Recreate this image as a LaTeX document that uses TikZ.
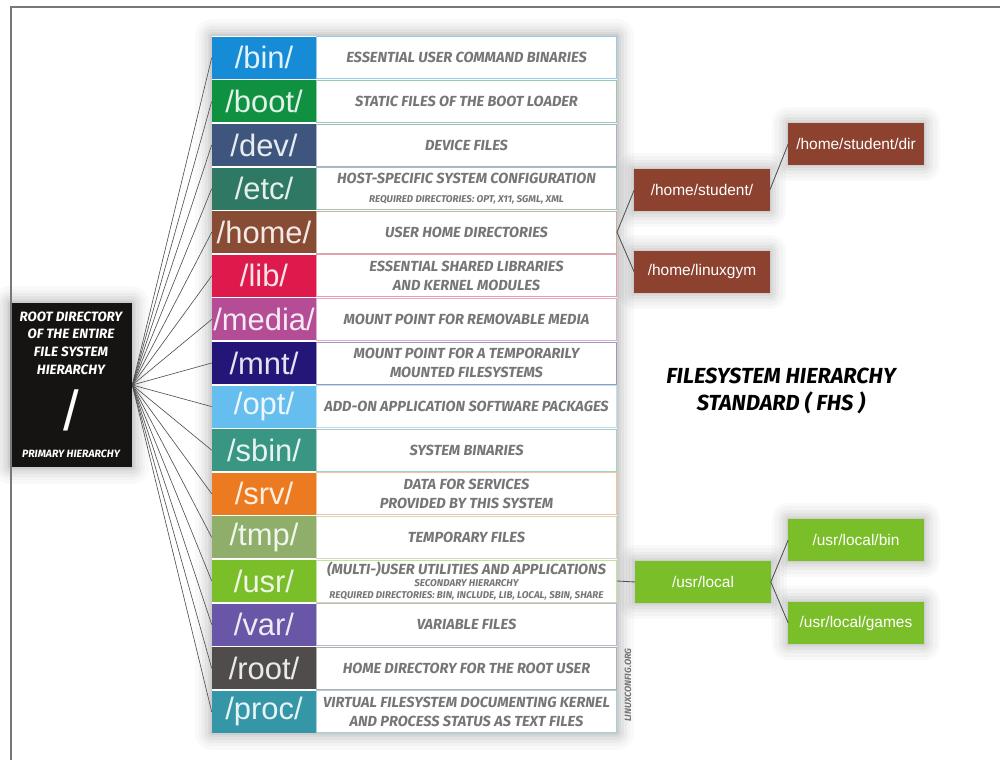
\documentclass[tikz,border=0pt]{standalone}
\usepackage{fontspec}
\setmainfont{Liberation Sans}
\newfontfamily\descfont{Fira Sans}
\usepackage{tikz}

\definecolor{binblue}{RGB}{22,140,214}
\definecolor{bootgreen}{RGB}{16,145,66}
\definecolor{devslate}{RGB}{62,86,126}
\definecolor{etcteal}{RGB}{46,120,100}
\definecolor{homebrown}{RGB}{136,76,52}
\definecolor{libred}{RGB}{222,26,76}
\definecolor{mediapink}{RGB}{180,76,150}
\definecolor{mntindigo}{RGB}{36,22,120}
\definecolor{optblue}{RGB}{102,190,238}
\definecolor{sbinteal}{RGB}{56,150,130}
\definecolor{srvorange}{RGB}{236,122,32}
\definecolor{tmpolive}{RGB}{142,174,106}
\definecolor{usrgreen}{RGB}{122,190,42}
\definecolor{varpurple}{RGB}{106,86,166}
\definecolor{rootgray}{RGB}{80,76,76}
\definecolor{procteal}{RGB}{52,150,166}
\definecolor{desctext}{RGB}{118,118,118}
\definecolor{linkgray}{RGB}{80,80,80}
\definecolor{brownbox}{RGB}{140,66,46}
\definecolor{limebox}{RGB}{122,190,42}
\definecolor{rootblack}{RGB}{22,19,19}
\definecolor{framegray}{RGB}{120,120,120}

\newcommand{\reqtext}[1]{{\fontsize{7}{8}\selectfont #1}}

\begin{document}
\begin{tikzpicture}[
    x=0.025cm, y=-0.025cm,
    glow/.style={
        preaction={draw=black, fill=none, draw opacity=0.022, line width=24pt, line join=round},
        preaction={draw=black, fill=none, draw opacity=0.025, line width=19pt, line join=round},
        preaction={draw=black, fill=none, draw opacity=0.03, line width=14pt, line join=round},
        preaction={draw=black, fill=none, draw opacity=0.035, line width=9.5pt, line join=round},
        preaction={draw=black, fill=none, draw opacity=0.04, line width=5.5pt, line join=round},
        preaction={draw=black, fill=none, draw opacity=0.05, line width=2.5pt, line join=round}},
    dirbox/.style={rectangle, fill=#1, text=#1!12!white, minimum width=2.6cm, minimum height=1.05cm, inner sep=0pt, font=\fontsize{22}{22}\selectfont},
    descbox/.style={rectangle, draw=#1!45!white, line width=0.6pt, fill=white, minimum width=7.5cm, minimum height=1.05cm, inner sep=0pt, align=center, text=desctext, font=\descfont\bfseries\itshape\fontsize{10.4}{13.5}\selectfont},
    subbox/.style={rectangle, glow, fill=#1, text=white, minimum width=3.375cm, minimum height=1.025cm, inner sep=0pt, font=\fontsize{11}{11}\selectfont},
    rootbox/.style={rectangle, glow, fill=rootblack, minimum width=3.05cm, minimum height=4.1cm, inner sep=0pt},
    roottext/.style={text=white, align=center, font=\descfont\bfseries\itshape\fontsize{9.6}{12.5}\selectfont},
    titletext/.style={align=center, font=\descfont\bfseries\itshape\fontsize{15.5}{19}\selectfont},
    fanline/.style={draw=linkgray, line width=0.45pt},
    link/.style={draw=linkgray, line width=0.6pt}
]

% ════════════════════════════════════════
% PAGE AND FRAME
% ════════════════════════════════════════
\useasboundingbox (0,0) rectangle (1000,760);
\fill[white] (0,0) rectangle (1000,760);

% soft shadow behind the table
\fill[white, glow] (212,36) rectangle (617,733);

% ════════════════════════════════════════
% ROOT DIRECTORY
% ════════════════════════════════════════
\node[rootbox] (root) at (71,385) {};
\node[roottext] (roottitle) at (71,343) {ROOT DIRECTORY\\OF THE ENTIRE\\FILE SYSTEM\\HIERARCHY};
\node[text=white, font=\fontsize{40}{40}\selectfont] (rootslash) at (71,410) {/};
\node[roottext, font=\descfont\bfseries\itshape\fontsize{7.5}{8}\selectfont] (rootsub) at (71,454) {PRIMARY HIERARCHY};

% ════════════════════════════════════════
% DIRECTORY TABLE
% ════════════════════════════════════════
\node[dirbox=binblue]    (c1)  at (264,57.8)  {/bin/};
\node[dirbox=bootgreen]  (c2)  at (264,101.4) {/boot/};
\node[dirbox=devslate]   (c3)  at (264,145.0) {/dev/};
\node[dirbox=etcteal]    (c4)  at (264,188.6) {/etc/};
\node[dirbox=homebrown]  (c5)  at (264,232.2) {/home/};
\node[dirbox=libred]     (c6)  at (264,275.8) {/lib/};
\node[dirbox=mediapink]  (c7)  at (264,319.4) {/media/};
\node[dirbox=mntindigo]  (c8)  at (264,363.0) {/mnt/};
\node[dirbox=optblue]    (c9)  at (264,406.6) {/opt/};
\node[dirbox=sbinteal]   (c10) at (264,450.2) {/sbin/};
\node[dirbox=srvorange]  (c11) at (264,493.8) {/srv/};
\node[dirbox=tmpolive]   (c12) at (264,537.4) {/tmp/};
\node[dirbox=usrgreen]   (c13) at (264,581.0) {/usr/};
\node[dirbox=varpurple]  (c14) at (264,624.6) {/var/};
\node[dirbox=rootgray]   (c15) at (264,668.2) {/root/};
\node[dirbox=procteal]   (c16) at (264,711.8) {/proc/};

\node[descbox=binblue]   (t1)  at (466.5,57.8)  {ESSENTIAL USER COMMAND BINARIES};
\node[descbox=bootgreen] (t2)  at (466.5,101.4) {STATIC FILES OF THE BOOT LOADER};
\node[descbox=devslate]  (t3)  at (466.5,145.0) {DEVICE FILES};
\node[descbox=etcteal]   (t4)  at (466.5,188.6) {HOST-SPECIFIC SYSTEM CONFIGURATION\\[0pt]\reqtext{REQUIRED DIRECTORIES: OPT, X11, SGML, XML}};
\node[descbox=homebrown] (t5)  at (466.5,232.2) {USER HOME DIRECTORIES};
\node[descbox=libred]    (t6)  at (466.5,275.8) {ESSENTIAL SHARED LIBRARIES\\AND KERNEL MODULES};
\node[descbox=mediapink] (t7)  at (466.5,319.4) {MOUNT POINT FOR REMOVABLE MEDIA};
\node[descbox=mntindigo] (t8)  at (466.5,363.0) {MOUNT POINT FOR A TEMPORARILY\\MOUNTED FILESYSTEMS};
\node[descbox=optblue]   (t9)  at (466.5,406.6) {ADD-ON APPLICATION SOFTWARE PACKAGES};
\node[descbox=sbinteal]  (t10) at (466.5,450.2) {SYSTEM BINARIES};
\node[descbox=srvorange] (t11) at (466.5,493.8) {DATA FOR SERVICES\\PROVIDED BY THIS SYSTEM};
\node[descbox=tmpolive]  (t12) at (466.5,537.4) {TEMPORARY FILES};
\node[descbox=usrgreen]  (t13) at (466.5,581.0) {(MULTI-)USER UTILITIES AND APPLICATIONS\\[-5pt]\reqtext{SECONDARY HIERARCHY}\\[-4.5pt]\reqtext{REQUIRED DIRECTORIES: BIN, INCLUDE, LIB, LOCAL, SBIN, SHARE}};
\node[descbox=varpurple] (t14) at (466.5,624.6) {VARIABLE FILES};
\node[descbox=rootgray]  (t15) at (466.5,668.2) {HOME DIRECTORY FOR THE ROOT USER};
\node[descbox=procteal]  (t16) at (466.5,711.8) {VIRTUAL FILESYSTEM DOCUMENTING KERNEL\\AND PROCESS STATUS AS TEXT FILES};

% ── fan from the root ──
\draw[fanline] (root.east) -- (c1.west);
\draw[fanline] (root.east) -- (c2.west);
\draw[fanline] (root.east) -- (c3.west);
\draw[fanline] (root.east) -- (c4.west);
\draw[fanline] (root.east) -- (c5.west);
\draw[fanline] (root.east) -- (c6.west);
\draw[fanline] (root.east) -- (c7.west);
\draw[fanline] (root.east) -- (c8.west);
\draw[fanline] (root.east) -- (c9.west);
\draw[fanline] (root.east) -- (c10.west);
\draw[fanline] (root.east) -- (c11.west);
\draw[fanline] (root.east) -- (c12.west);
\draw[fanline] (root.east) -- (c13.west);
\draw[fanline] (root.east) -- (c14.west);
\draw[fanline] (root.east) -- (c15.west);
\draw[fanline] (root.east) -- (c16.west);

\node[text=desctext, rotate=90, font=\descfont\bfseries\itshape\fontsize{6.5}{7}\selectfont] (site) at (628,685) {LINUXCONFIG.ORG};

% ════════════════════════════════════════
% /home BRANCH
% ════════════════════════════════════════
\node[subbox=brownbox] (h1) at (702,190) {/home/student/};
\node[subbox=brownbox] (h2) at (856,144) {/home/student/dir};
\node[subbox=brownbox] (h3) at (702,272) {/home/linuxgym};

\draw[link] (t5.east) -- (h1.west);
\draw[link] (t5.east) -- (h3.west);
\draw[link] (h1.east) -- (h2.west);

% ════════════════════════════════════════
% /usr BRANCH
% ════════════════════════════════════════
\node[subbox=limebox] (u1) at (703,582) {/usr/local};
\node[subbox=limebox] (u2) at (856,540) {/usr/local/bin};
\node[subbox=limebox] (u3) at (856,623) {/usr/local/games};

\draw[link] (t13.east) -- (u1.west);
\draw[link] (u1.east) -- (u2.west);
\draw[link] (u1.east) -- (u3.west);

% ── title ──
\node[titletext] (fhs) at (781,391) {FILESYSTEM HIERARCHY\\STANDARD ( FHS )};

% ── frame of the page ──
\draw[framegray, line width=0.8pt] (11,760) -- (11,7) -- (1000,7);

\end{tikzpicture}
\end{document}
